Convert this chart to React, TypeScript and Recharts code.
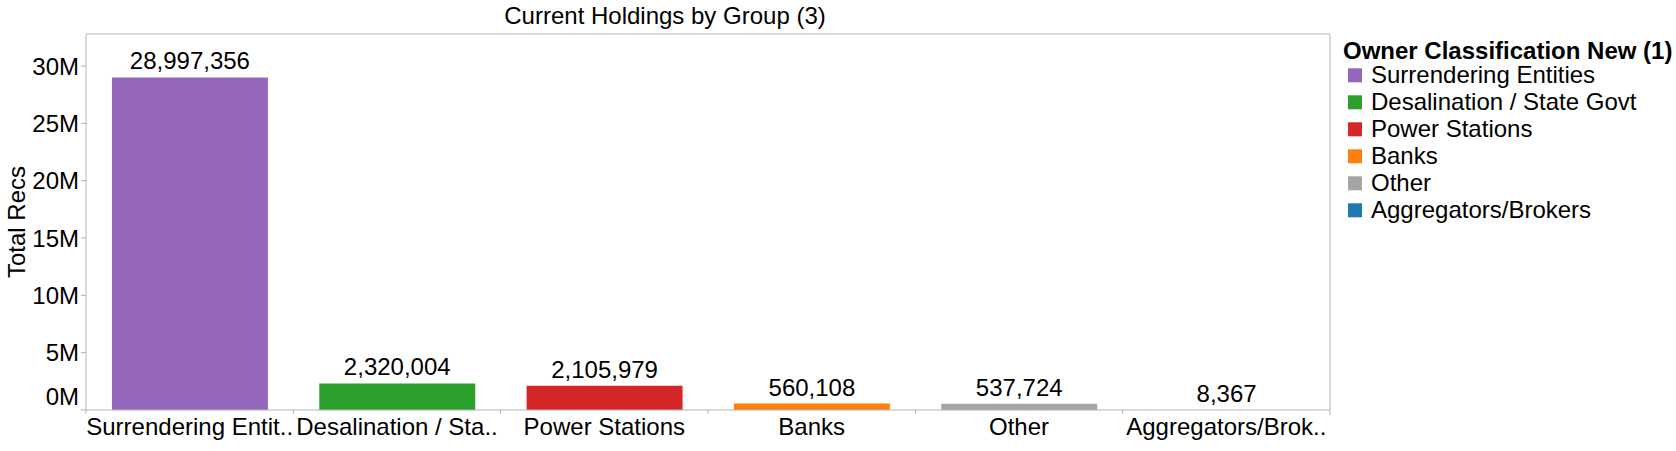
import React from "react";
import { Bar, BarChart, Cell, LabelList, XAxis, YAxis } from "recharts";

const categories = [
  "Surrendering Entities",
  "Desalination / State Govt",
  "Power Stations",
  "Banks",
  "Other",
  "Aggregators/Brokers",
];
// shortened names as the source shows them under the bars
const tickLabels = [
  "Surrendering Entit..",
  "Desalination / Sta..",
  "Power Stations",
  "Banks",
  "Other",
  "Aggregators/Brok..",
];
const totalRecs = [28997356, 2320004, 2105979, 560108, 537724, 8367];
const colors = ["#9467bd", "#2ca02c", "#d62728", "#ff7f0e", "#a5a5a5", "#1f77b4"];
const yTicks = [0, 5000000, 10000000, 15000000, 20000000, 25000000, 30000000];

const data = categories.map((name, i) => ({ name, value: totalRecs[i] }));

const W = 1676;
const H = 451;
const PLOT_LEFT = 86;
const PLOT_RIGHT = 1330;
const PLOT_TOP = 34;
const PLOT_BOTTOM = 410;
const BAND = (PLOT_RIGHT - PLOT_LEFT) / categories.length;
const AXIS = "#b4b4b4";
const FONT = '"Liberation Sans", Arial, sans-serif';

function CategoryTick(props: any) {
  const { x, y, payload, index } = props;
  return (
    <g>
      <line x1={x - BAND / 2} x2={x - BAND / 2} y1={y} y2={y + 4} stroke={AXIS} />
      {index === categories.length - 1 && (
        <line x1={x + BAND / 2} x2={x + BAND / 2} y1={y} y2={y + 5} stroke={AXIS} />
      )}
      <text x={x} y={y + 25} textAnchor="middle" fontSize={24} fill="#000">
        {tickLabels[categories.indexOf(payload.value)]}
      </text>
    </g>
  );
}

function ValueTick(props: any) {
  const { x, y, payload } = props;
  // the bottom label sits a little above its tick, as in the source
  const shift = payload.value === 0 ? -14 : 0;
  return (
    <text x={x} y={y + shift} dy="0.355em" textAnchor="end" fontSize={24} fill="#000">
      {`${payload.value / 1000000}M`}
    </text>
  );
}

export default function App() {
  return (
    <div style={{ position: "absolute", left: 0, top: 0, width: W, height: H, fontFamily: FONT }}>
      <BarChart
        width={W}
        height={H}
        data={data}
        barCategoryGap="12.5%"
        margin={{ top: PLOT_TOP - 1, left: 16, right: W - PLOT_RIGHT - 1, bottom: H - PLOT_BOTTOM - 1 }}
      >
        <XAxis
          dataKey="name"
          height={1}
          tickSize={0}
          tickMargin={0}
          axisLine={{ stroke: AXIS }}
          tickLine={false}
          tick={<CategoryTick />}
          interval={0}
        />
        <XAxis
          xAxisId="top"
          orientation="top"
          dataKey="name"
          height={1}
          tick={false}
          tickLine={false}
          axisLine={{ stroke: AXIS }}
        />
        <YAxis
          width={70}
          domain={[0, 32790000]}
          ticks={yTicks}
          tickSize={5}
          tickMargin={2}
          allowDataOverflow
          axisLine={{ stroke: AXIS }}
          tickLine={{ stroke: AXIS }}
          tick={<ValueTick />}
          label={{
            content: () => (
              <text
                x={25}
                y={(PLOT_TOP + PLOT_BOTTOM) / 2}
                transform={`rotate(-90 25 ${(PLOT_TOP + PLOT_BOTTOM) / 2})`}
                textAnchor="middle"
                fontSize={24}
                fill="#000"
              >
                Total Recs
              </text>
            ),
          }}
        />
        <YAxis
          yAxisId="right"
          orientation="right"
          width={1}
          tick={false}
          tickLine={false}
          axisLine={{ stroke: AXIS }}
        />
        <Bar dataKey="value" isAnimationActive={false}>
          {data.map((d, i) => (
            <Cell key={d.name} fill={colors[i]} />
          ))}
          <LabelList
            dataKey="value"
            position="top"
            offset={8}
            fontSize={24}
            fill="#000"
            formatter={(v: any) => Number(v).toLocaleString("en-US")}
          />
        </Bar>
      </BarChart>
      <svg
        width={W}
        height={H}
        style={{ position: "absolute", left: 0, top: 0, pointerEvents: "none", fontFamily: FONT }}
      >
        <text x={PLOT_RIGHT / 2} y={24} textAnchor="middle" fontSize={24} fill="#000">
          Current Holdings by Group (3)
        </text>
        <text x={1343} y={58.5} fontSize={24} fontWeight="bold" fill="#000">
          Owner Classification New (1)
        </text>
        {categories.map((c, i) => (
          <g key={c}>
            <rect x={1348} y={68.3 + i * 27} width={14} height={14} fill={colors[i]} />
            <text x={1371} y={83.3 + i * 27} fontSize={24} fill="#000">
              {c}
            </text>
          </g>
        ))}
      </svg>
    </div>
  );
}
